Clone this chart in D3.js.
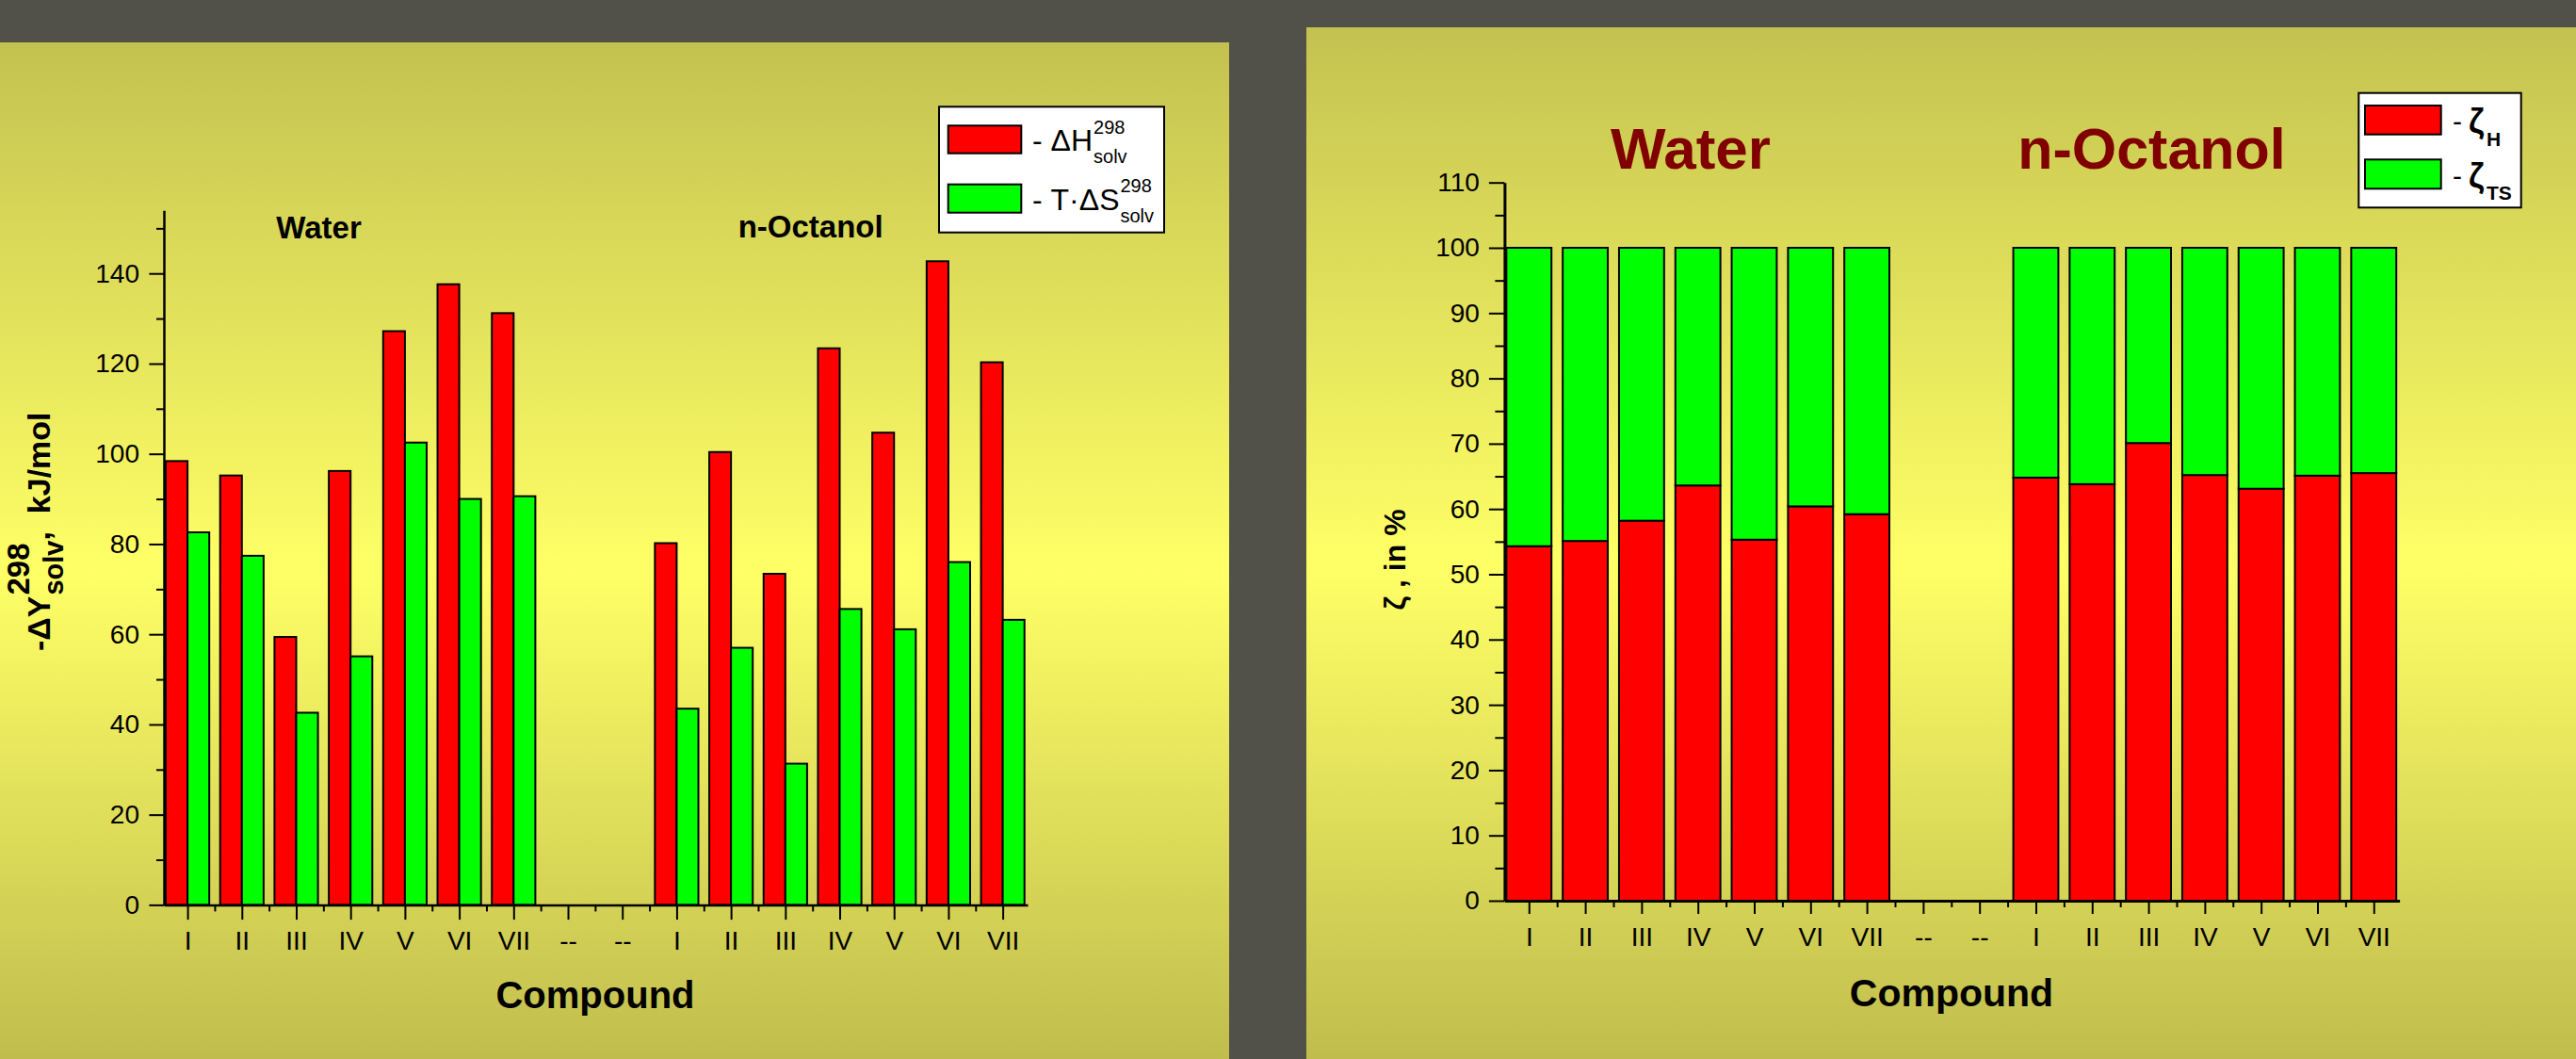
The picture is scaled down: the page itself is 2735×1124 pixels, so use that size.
<!DOCTYPE html>
<html>
<head>
<meta charset="utf-8">
<script src="https://cdn.jsdelivr.net/npm/d3@7"></script>
<style>
  html, body { margin: 0; padding: 0; background: #515149; }
  svg { display: block; }
  text { font-family: "Liberation Sans", Arial, sans-serif; fill: #000; white-space: pre; }
</style>
</head>
<body>
<svg id="chart" width="2735" height="1124"></svg>
<script>
// compounds, water block then n-octanol block, two empty slots between
const labels = ["I", "II", "III", "IV", "V", "VI", "VII", "--", "--", "I", "II", "III", "IV", "V", "VI", "VII"];

// -dH(298, solv) and T*dS(298, solv), kJ/mol
const dH  = [98.4, 95.2, 59.4, 96.2, 127.2, 137.6, 131.2, null, null, 80.2, 100.4, 73.4, 123.4, 104.7, 142.7, 120.3];
const TdS = [82.6, 77.4, 42.6, 55.1, 102.5, 90.0, 90.6, null, null, 43.5, 57.0, 31.3, 65.6, 61.1, 76.0, 63.2];

// zeta_H and zeta_TS, in %
const zetaH  = [54.3, 55.1, 58.2, 63.6, 55.3, 60.4, 59.2, null, null, 64.8, 63.8, 70.1, 65.2, 63.1, 65.1, 65.5];
const zetaTS = [45.7, 44.9, 41.8, 36.4, 44.7, 39.6, 40.8, null, null, 35.2, 36.2, 29.9, 34.8, 36.9, 34.9, 34.5];

const leftTicks = [0, 20, 40, 60, 80, 100, 120, 140];
const leftMinor = [10, 30, 50, 70, 90, 110, 130, 150];
const rightTicks = [0, 10, 20, 30, 40, 50, 60, 70, 80, 90, 100, 110];
const rightMinor = [5, 15, 25, 35, 45, 55, 65, 75, 85, 95, 105];

const RED = "#ff0000", GREEN = "#00ff00";
const SERIF = "'Liberation Serif', 'Times New Roman', serif";

const svg = d3.select("#chart");

// panel gradient
const grad = svg.append("defs").append("linearGradient")
	.attr("id", "panel").attr("x1", 0).attr("y1", 0).attr("x2", 0).attr("y2", 1);
grad.append("stop").attr("offset", "0%").attr("stop-color", "#c3c251");
grad.append("stop").attr("offset", "52%").attr("stop-color", "#ffff66");
grad.append("stop").attr("offset", "100%").attr("stop-color", "#c0bd4e");

svg.append("rect").attr("x", 0).attr("y", 45).attr("width", 1305).attr("height", 1079).attr("fill", "url(#panel)");
svg.append("rect").attr("x", 1387).attr("y", 29).attr("width", 1348).attr("height", 1095).attr("fill", "url(#panel)");

// writes a piece of text and returns its width, so runs can be chained
function put(g, x, y, str, size, weight, family) {
	let t = g.append("text").attr("x", x).attr("y", y).attr("xml:space", "preserve")
		.attr("font-size", size).attr("font-weight", weight || "normal").text(str);
	if (family) t.attr("font-family", family);
	return t.node().getComputedTextLength();
}

function styleAxis(g, lineW) {
	g.attr("font-family", null).attr("font-size", null);
	g.select(".domain").attr("stroke", "#000").attr("stroke-width", lineW);
	g.selectAll(".tick line").attr("stroke", "#000").attr("stroke-width", 2);
	g.selectAll(".tick text").attr("font-size", 28).attr("fill", "#000");
}

function drawAxes(x, y, o) {
	let xa = svg.append("g").attr("transform", "translate(0," + y(0) + ")");
	xa.call(d3.axisBottom(x).tickValues(d3.range(1.5, 16, 1))
		.tickSize(o.xMinor).tickFormat("").tickSizeOuter(0));
	xa.select(".domain").remove();
	styleAxis(xa, o.lineW);

	let xb = svg.append("g").attr("transform", "translate(0," + y(0) + ")");
	xb.call(d3.axisBottom(x).tickValues(d3.range(1, 17)).tickSize(o.xMajor)
		.tickPadding(o.xPad).tickSizeOuter(0).tickFormat(d => labels[d - 1]));
	styleAxis(xb, o.lineW);

	let ya = svg.append("g").attr("transform", "translate(" + x.range()[0] + ",0)");
	ya.call(d3.axisLeft(y).tickValues(o.minor).tickSize(o.yMinor).tickFormat("").tickSizeOuter(0));
	ya.select(".domain").remove();
	styleAxis(ya, o.lineW);

	let yb = svg.append("g").attr("transform", "translate(" + x.range()[0] + ",0)");
	yb.call(d3.axisLeft(y).tickValues(o.major).tickSize(o.yMajor).tickPadding(o.yPad).tickSizeOuter(0));
	styleAxis(yb, o.lineW);
}

// ---------- left chart: grouped bars ----------
let xL = d3.scaleLinear().domain([0.565, 16.457]).range([174, 1091]);
let yL = d3.scaleLinear().domain([0, 154]).range([960.4, 223.2]);

let groups = [
	{ vals: dH, color: RED, off: -0.4 },
	{ vals: TdS, color: GREEN, off: 0 }
];
groups.forEach(function(s) {
	let pts = s.vals.map((v, i) => ({ i: i + 1, v: v })).filter(d => d.v != null);
	svg.append("g").selectAll("rect").data(pts).enter().append("rect")
		.attr("x", d => xL(d.i + s.off))
		.attr("y", d => yL(d.v))
		.attr("width", d => xL(d.i + s.off + 0.4) - xL(d.i + s.off))
		.attr("height", d => yL(0) - yL(d.v))
		.attr("fill", s.color).attr("stroke", "#000").attr("stroke-width", 2);
});

drawAxes(xL, yL, { major: leftTicks, minor: leftMinor, lineW: 2.5,
	xMajor: 15.7, xMinor: 7, xPad: 12, yMajor: 15.6, yMinor: 8, yPad: 10.4 });

svg.append("text").attr("x", 338.5).attr("y", 253).attr("text-anchor", "middle")
	.attr("font-size", 33).attr("font-weight", "bold").text("Water");
svg.append("text").attr("x", 860.7).attr("y", 251.7).attr("text-anchor", "middle")
	.attr("font-size", 33).attr("font-weight", "bold").text("n-Octanol");
svg.append("text").attr("x", 632).attr("y", 1069.6).attr("text-anchor", "middle")
	.attr("font-size", 40).attr("font-weight", "bold").text("Compound");

// y title  -ΔY^298_solv, kJ/mol
let yt = svg.append("g").attr("transform", "translate(52.7,691) rotate(-90)");
let w0 = put(yt, 0, 0, "-ΔY", 34, "bold");
let w1 = put(yt, w0 + 1, -21.4, "298", 33, "bold");
let w2 = put(yt, w0 + 1, 14.3, "solv", 29, "bold");
put(yt, w0 + 1 + Math.max(w1, w2), 0, ",  kJ/mol", 34, "bold");

// legend
let lg = svg.append("g");
lg.append("rect").attr("x", 997).attr("y", 113.3).attr("width", 239).attr("height", 133.4)
	.attr("fill", "#fff").attr("stroke", "#000").attr("stroke-width", 2);
lg.append("rect").attr("x", 1006.7).attr("y", 133.3).attr("width", 77.6).attr("height", 29.4)
	.attr("fill", RED).attr("stroke", "#000").attr("stroke-width", 2);
lg.append("rect").attr("x", 1006.7).attr("y", 195.7).attr("width", 77.6).attr("height", 30)
	.attr("fill", GREEN).attr("stroke", "#000").attr("stroke-width", 2);
let lx = 1096;
let a = put(lg, lx, 160, "- ", 32);
a += put(lg, lx + a, 160, "Δ", 32, null, SERIF);
a += put(lg, lx + a, 160, "H", 32);
put(lg, lx + a + 1, 142.3, "298", 20);
put(lg, lx + a + 1, 173.3, "solv", 20);
let b = put(lg, lx, 223.3, "- ", 32);
b += put(lg, lx + b, 223.3, "T·Δ", 32, null, SERIF);
b += put(lg, lx + b, 223.3, "S", 32);
put(lg, lx + b + 1, 204.3, "298", 20);
put(lg, lx + b + 1, 235.7, "solv", 20);

// ---------- right chart: stacked percentages ----------
let xR = d3.scaleLinear().domain([0.567, 16.457]).range([1597.4, 2547.6]);
let yR = d3.scaleLinear().domain([0, 110]).range([956, 193.7]);

let rows = zetaH.map((h, i) => ({ i: i + 1, h: h, ts: zetaTS[i] })).filter(d => d.h != null);
let stack = d3.stack().keys(["h", "ts"])(rows);
let stackColor = { h: RED, ts: GREEN };
stack.forEach(function(layer) {
	svg.append("g").selectAll("rect").data(layer).enter().append("rect")
		.attr("x", d => xR(d.data.i - 0.4))
		.attr("y", d => yR(d[1]))
		.attr("width", xR(1.4) - xR(0.6))
		.attr("height", d => yR(d[0]) - yR(d[1]))
		.attr("fill", stackColor[layer.key]).attr("stroke", "#000").attr("stroke-width", 2);
});

drawAxes(xR, yR, { major: rightTicks, minor: rightMinor, lineW: 3,
	xMajor: 14, xMinor: 7, xPad: 14.5, yMajor: 16.5, yMinor: 10, yPad: 10 });

svg.append("text").attr("x", 1795).attr("y", 179).attr("text-anchor", "middle")
	.attr("font-size", 62).attr("font-weight", "bold").style("fill", "#800000").text("Water");
svg.append("text").attr("x", 2284.5).attr("y", 179).attr("text-anchor", "middle")
	.attr("font-size", 61).attr("font-weight", "bold").style("fill", "#800000").text("n-Octanol");
svg.append("text").attr("x", 2072).attr("y", 1068).attr("text-anchor", "middle")
	.attr("font-size", 41).attr("font-weight", "bold").text("Compound");

svg.append("text").attr("transform", "translate(1492,594) rotate(-90)").attr("text-anchor", "middle")
	.attr("font-family", SERIF).attr("font-size", 32).attr("font-weight", "bold").text("ζ , in %");

let rg = svg.append("g");
rg.append("rect").attr("x", 2504.3).attr("y", 98.7).attr("width", 172.4).attr("height", 121.6)
	.attr("fill", "#fff").attr("stroke", "#000").attr("stroke-width", 2);
rg.append("rect").attr("x", 2511).attr("y", 112).attr("width", 80.7).attr("height", 30.7)
	.attr("fill", RED).attr("stroke", "#000").attr("stroke-width", 2);
rg.append("rect").attr("x", 2511).attr("y", 169.3).attr("width", 80.7).attr("height", 31)
	.attr("fill", GREEN).attr("stroke", "#000").attr("stroke-width", 2);
put(rg, 2604, 139, "-", 30);
put(rg, 2621, 141, "ζ", 36, "bold", SERIF);
put(rg, 2640, 155, "H", 21, "bold", SERIF);
put(rg, 2604, 197, "-", 30);
put(rg, 2621, 199, "ζ", 36, "bold", SERIF);
put(rg, 2640, 212, "TS", 21, "bold", SERIF);
</script>
</body>
</html>
